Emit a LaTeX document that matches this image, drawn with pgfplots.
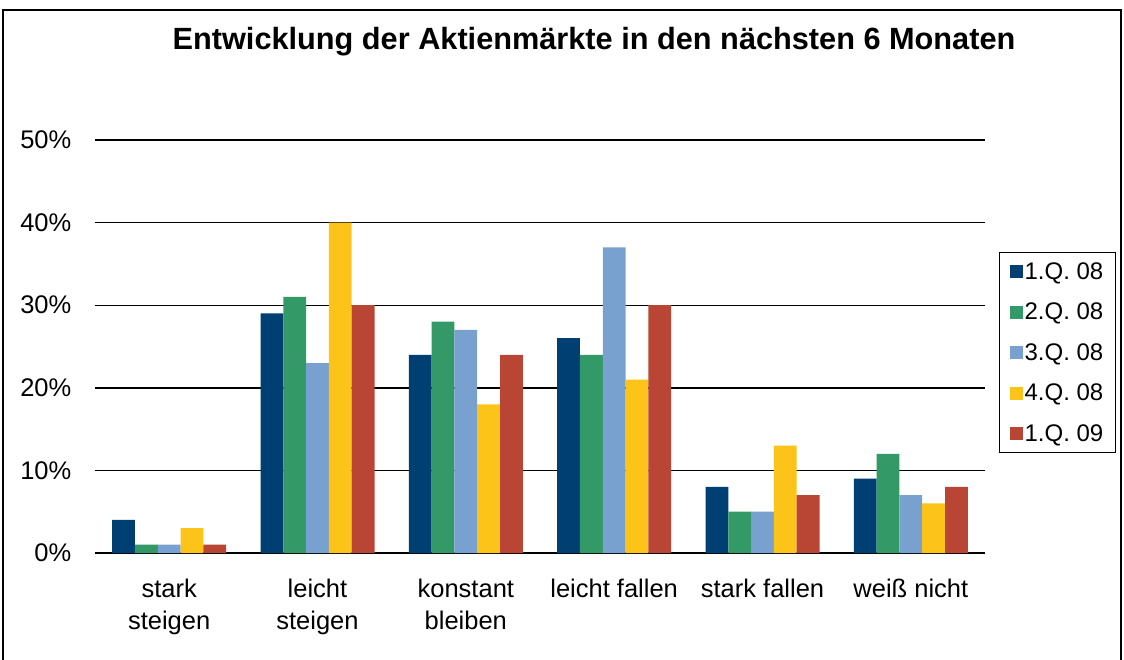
\documentclass[border=0pt]{standalone}
\usepackage{pgfplots}
\pgfplotsset{compat=1.18}
\usepackage{fontspec}
\setmainfont{Liberation Sans}
\definecolor{cA}{RGB}{0,63,114}
\definecolor{cB}{RGB}{51,153,102}
\definecolor{cC}{RGB}{121,161,207}
\definecolor{cD}{RGB}{252,196,24}
\definecolor{cE}{RGB}{185,69,52}
\begin{document}
\begin{tikzpicture}[x=1pt,y=1pt]
\useasboundingbox (0,0) rectangle (1124,659);
\draw[line width=1.5pt] (3,-5) -- (3,649) -- (1121,649) -- (1121,-5);
\node[font=\fontsize{30.7}{34}\selectfont\bfseries] at (594,617) {Entwicklung der Aktienmärkte in den nächsten 6 Monaten};
\begin{axis}[
  at={(95pt,106pt)}, anchor=south west,
  scale only axis, width=890pt, height=413pt,
  xmin=-0.5, xmax=5.5, ymin=0, ymax=50,
  ybar=0pt, bar width=22.8pt,
  axis x line=bottom, axis y line=left, axis line style={-},
  x axis line style={line width=1.5pt, black},
  y axis line style={draw=none},
  ytick={0,10,20,30,40,50},
  yticklabel={\pgfmathprintnumber{\tick}\%},
  ymajorgrids, major grid style={black, line width=1.4pt},
  xtick={0,1,2,3,4,5},
  xticklabels={{stark\\steigen},{leicht\\steigen},{konstant\\bleiben},{leicht fallen},{stark fallen},{weiß nicht}},
  xticklabel style={align=center, font=\fontsize{25.5}{32}\selectfont, yshift=-20pt, anchor=north},
  yticklabel style={font=\fontsize{25.5}{28}\selectfont, xshift=-18pt},
  /pgf/number format/assume math mode=true,
  tick style={draw=none},
  legend style={at={(1.0157,0.7288)}, anchor=north west, draw=black, line width=1.2pt,
    font=\fontsize{24}{28}\selectfont, row sep=18.2pt, inner xsep=10pt, inner ysep=8pt,
    /tikz/every even column/.append style={column sep=4pt}},
  legend cell align=left,
  legend image code/.code={\fill[#1] (0pt,-6.5pt) rectangle (13pt,6.5pt);},
]
\addplot[fill=cA, draw=none] coordinates {(0,4) (1,29) (2,24) (3,26) (4,8) (5,9)};
\addplot[fill=cB, draw=none] coordinates {(0,1) (1,31) (2,28) (3,24) (4,5) (5,12)};
\addplot[fill=cC, draw=none] coordinates {(0,1) (1,23) (2,27) (3,37) (4,5) (5,7)};
\addplot[fill=cD, draw=none] coordinates {(0,3) (1,40) (2,18) (3,21) (4,13) (5,6)};
\addplot[fill=cE, draw=none] coordinates {(0,1) (1,30) (2,24) (3,30) (4,7) (5,8)};
\legend{1.Q. 08,2.Q. 08,3.Q. 08,4.Q. 08,1.Q. 09}
\end{axis}
\end{tikzpicture}
\end{document}
